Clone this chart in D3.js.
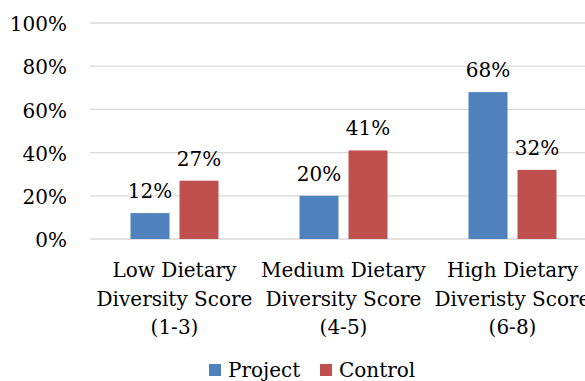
<!DOCTYPE html>
<html>
<head>
<meta charset="utf-8">
<script src="https://cdn.jsdelivr.net/npm/d3@7"></script>
<style>
  html, body { margin: 0; padding: 0; background: #fff; }
  svg { display: block; }
  text { font-family: "DejaVu Serif", "Liberation Serif", serif; fill: #000; }
</style>
</head>
<body>
<svg id="chart" width="585" height="381"></svg>
<script>
// Dietary diversity score groups and the share of households in each
const categories = [
  ["Low Dietary", "Diversity Score", "(1-3)"],
  ["Medium Dietary", "Diversity Score", "(4-5)"],
  ["High Dietary", "Diveristy Score", "(6-8)"]
];
const seriesNames = ["Project", "Control"];
const projectValues = [12, 20, 68];
const controlValues = [27, 41, 32];
const yTicks = [0, 20, 40, 60, 80, 100];
const colors = ["#4F81BD", "#C0504D"];

const svg = d3.select("#chart");
const fontSize = 20;

const x = d3.scaleBand().domain(d3.range(categories.length)).range([90, 597]);
const y = d3.scaleLinear().domain([0, 100]).range([239, 23]);
const barW = 39, barGap = 10;

// gridlines
svg.append("g").selectAll("line").data(yTicks).join("line")
  .attr("x1", 90).attr("x2", 597)
  .attr("y1", d => y(d)).attr("y2", d => y(d))
  .attr("stroke", "#D9D9D9").attr("stroke-width", 1.3);

// y axis labels
const yAxis = d3.axisLeft(y).tickValues(yTicks).tickFormat(d => d + "%").tickSize(0).tickPadding(23);
const yg = svg.append("g").attr("transform", "translate(90,0)").call(yAxis);
yg.select(".domain").remove();
yg.selectAll("text").style("font-family", "DejaVu Serif").style("font-size", fontSize + "px").attr("dy", "0.38em");

const series = [projectValues, controlValues];
series.forEach((vals, si) => {
  const g = svg.append("g");
  const xOff = i => x(i) + x.bandwidth() / 2 + (si === 0 ? -barGap / 2 - barW : barGap / 2);
  g.selectAll("rect").data(vals).join("rect")
    .attr("x", (d, i) => xOff(i))
    .attr("width", barW)
    .attr("y", d => y(d))
    .attr("height", d => y(0) - y(d))
    .attr("fill", colors[si]);
  g.selectAll("text").data(vals).join("text")
    .attr("x", (d, i) => xOff(i) + barW / 2)
    .attr("y", d => y(d) - 15)
    .attr("text-anchor", "middle")
    .style("font-size", fontSize + "px")
    .text(d => d + "%");
});

// category labels
categories.forEach((lines, i) => {
  const t = svg.append("text")
    .attr("x", x(i) + x.bandwidth() / 2)
    .attr("y", 277)
    .attr("text-anchor", "middle")
    .style("font-size", fontSize + "px");
  lines.forEach((ln, k) => {
    t.append("tspan").attr("x", x(i) + x.bandwidth() / 2).attr("y", 277 + k * 28.5).text(ln);
  });
});

// legend
const legend = svg.append("g");
const legendItems = [{ name: seriesNames[0], x: 209 }, { name: seriesNames[1], x: 320 }];
legendItems.forEach((it, i) => {
  legend.append("rect").attr("x", it.x).attr("y", 364).attr("width", 12).attr("height", 12).attr("fill", colors[i]);
  legend.append("text").attr("x", it.x + 19).attr("y", 377).style("font-size", fontSize + "px").text(it.name);
});
</script>
</body>
</html>
